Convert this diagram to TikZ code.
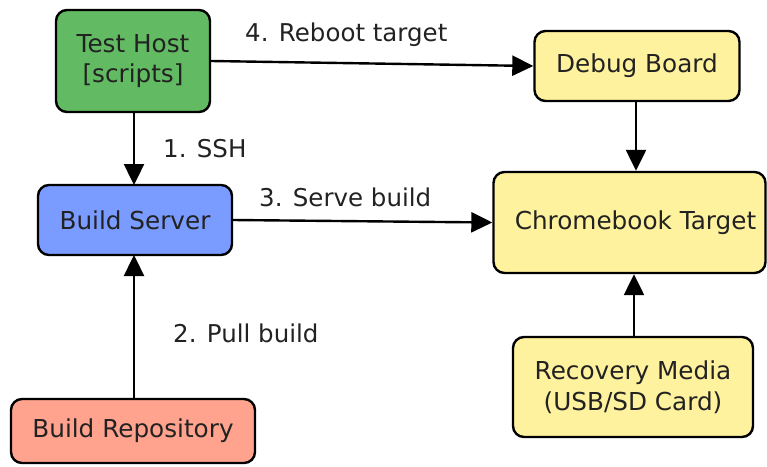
\documentclass[tikz,border=0pt]{standalone}
\usepackage{fontspec}
\setmainfont{DejaVu Sans}
\usetikzlibrary{arrows.meta}
\definecolor{hostgreen}{HTML}{62BA62}
\definecolor{serverblue}{HTML}{7A9BFF}
\definecolor{reposalmon}{HTML}{FFA38E}
\definecolor{boxyellow}{HTML}{FFF29E}
\definecolor{txt}{HTML}{222222}
\tikzset{
  box/.style={draw=black, line width=2.4pt, rounded corners=11pt, inner sep=0pt,
    text=txt, align=center, font=\fontsize{24.7}{30.5}\selectfont},
  lbl/.style={inner sep=0pt, anchor=base west, text=txt, font=\fontsize{24.5}{30}\selectfont},
  conn/.style={line width=2.4pt, -{Triangle[length=21pt,width=20pt]}},
}
\begin{document}
\begin{tikzpicture}[x=1pt,y=-1pt]
\useasboundingbox (0,0) rectangle (767,466);
\node[box, fill=hostgreen, minimum width=154pt, minimum height=102pt] (th) at (133,61) {Test Host\\{}[scripts]};
\node[box, fill=serverblue, minimum width=194pt, minimum height=70pt] (bs) at (135,220) {Build Server};
\node[box, fill=reposalmon, minimum width=244pt, minimum height=64pt] (br) at (133,431) {Build Repository};
\node[box, fill=boxyellow, minimum width=205pt, minimum height=70pt] (db) at (637,66) {Debug Board};
\node[box, fill=boxyellow, minimum width=272pt, minimum height=101pt] (cb) at (629.5,222.5) {\hspace*{12pt}Chromebook Target};
\node[box, fill=boxyellow, minimum width=240pt, minimum height=100pt] (rm) at (633,387) {Recovery Media\\(USB/SD Card)};
\coordinate (thb) at (134,112);
\coordinate (bst) at (134,185);
\coordinate (bsb) at (134,255);
\coordinate (brt) at (134,399);
\draw[conn] (thb) -- (bst);
\draw[conn] (brt) -- (bsb);
\draw[conn] (th.east) -- (db.west);
\draw[conn] (bs.east) -- (cb.west);
\draw[conn] (db.south -| 636,0) -- (cb.north -| 636,0);
\draw[conn] (rm.north -| 634,0) -- (cb.south -| 634,0);
\node[lbl] (l1) at (163,157) {1. SSH};
\node[lbl] (l2) at (173,342) {2. Pull build};
\node[lbl] (l3) at (259,206) {3. Serve build};
\node[lbl] (l4) at (245,41) {4. Reboot target};
\end{tikzpicture}
\end{document}
